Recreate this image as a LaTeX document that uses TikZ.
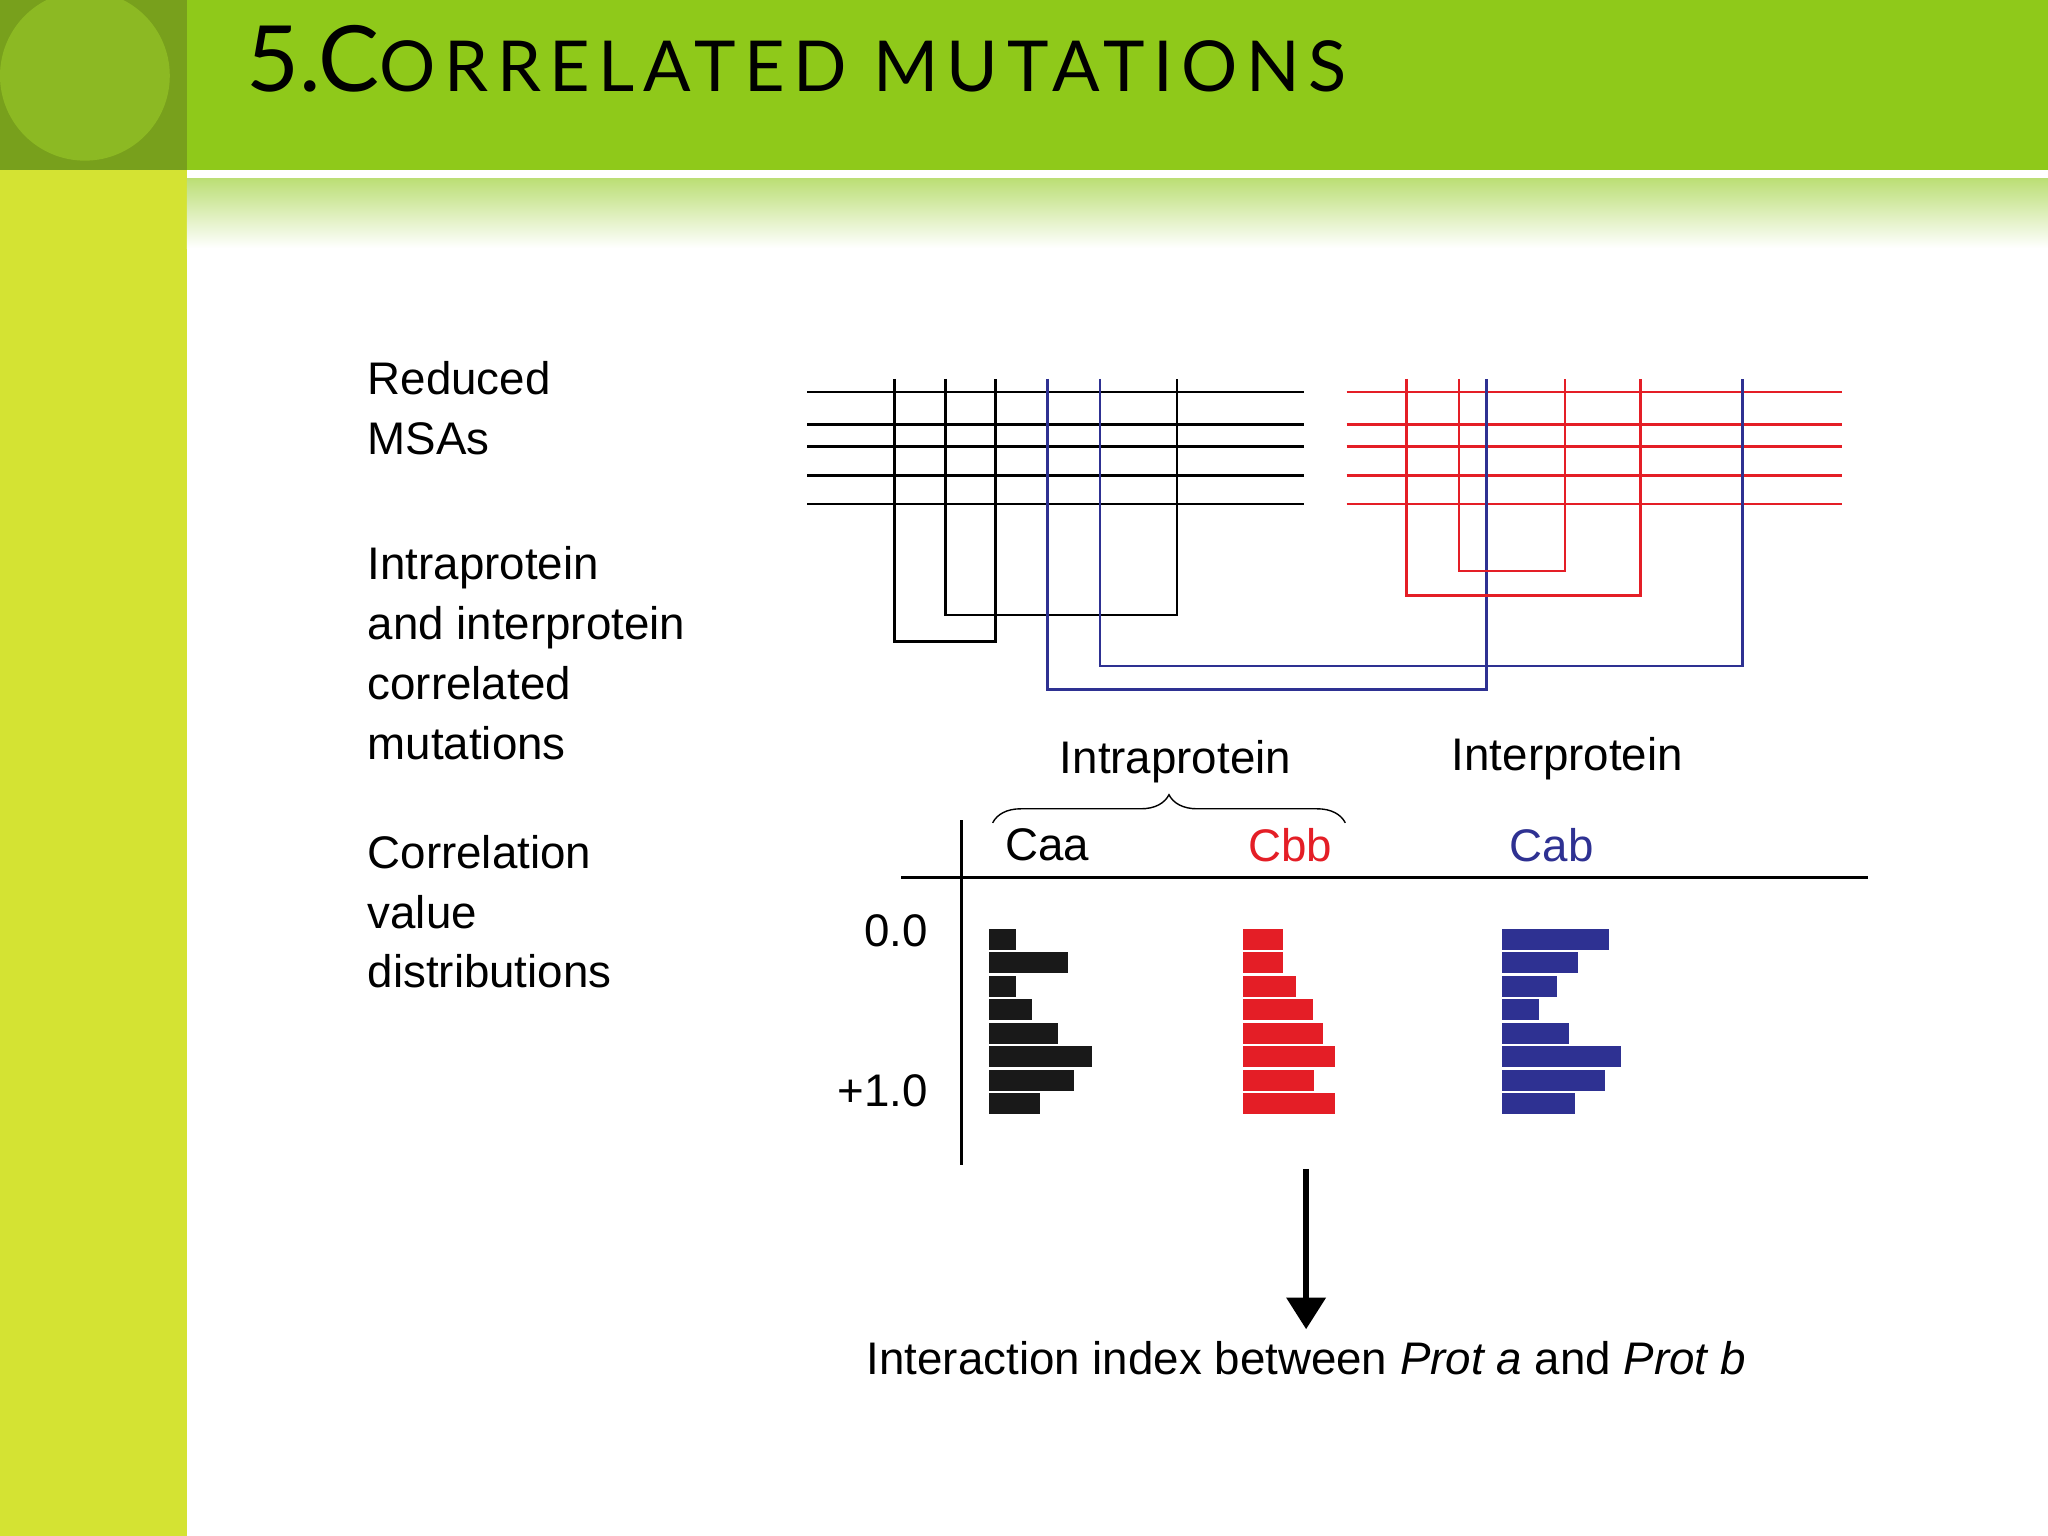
\documentclass[tikz,border=0pt]{standalone}
\usepackage{fontspec}
\setmainfont{Liberation Sans}
\newfontfamily\titlefont{Lato}
\usetikzlibrary{decorations.pathreplacing,arrows.meta}
\definecolor{topgreen}{RGB}{143,201,26}
\definecolor{cornergreen}{RGB}{120,160,28}
\definecolor{circgreen}{RGB}{140,185,35}
\definecolor{sidegreen}{RGB}{212,227,51}
\definecolor{rd}{RGB}{228,30,38}
\definecolor{bl}{RGB}{46,49,146}
\tikzset{lbl/.style={font=\fontsize{13}{17}\selectfont,align=left,anchor=north west,inner sep=0pt},
 bk/.style={line width=0.7pt,black},
 rl/.style={line width=0.7pt,rd},
 bll/.style={line width=0.7pt,bl}}
\begin{document}
\begin{tikzpicture}[x=0.013061cm,y=-0.013061cm]
\useasboundingbox (0,0) rectangle (1568,1176);
\fill[white] (0,0) rectangle (1568,1176);
\fill[topgreen] (0,0) rectangle (1568,130);
\fill[sidegreen] (0,130) rectangle (143,1176);
\fill[cornergreen] (0,0) rectangle (143,130);
\fill[circgreen] (65,58) circle (65);
\shade[top color=topgreen!60!white,bottom color=white] (143,137) rectangle (1568,190);
\node[anchor=base west,inner sep=0pt] (title) at (188,70) {\titlefont\fontsize{26}{30}\selectfont 5.C\fontsize{20}{24}\selectfont\addfontfeature{LetterSpace=12}ORRELATED MUTATIONS};
% left labels
\node[lbl] (l1) at (281,276) {Reduced\\MSAs};
\node[lbl] (l2) at (281,418) {Intraprotein\\and interprotein\\correlated\\mutations};
\node[lbl] (l3) at (281,639) {Correlation\\value\\distributions};
% MSA lines
\foreach \y in {300,325,342,364,386}{
 \draw[bk] (618,\y) -- (998,\y);
 \draw[rl] (1031,\y) -- (1410,\y);}
\draw[bk] (685,290) |- (762,491) -- (762,290);
\draw[bk] (724,290) |- (901,471) -- (901,290);
\draw[bll] (802,290) |- (1138,528) -- (1138,290);
\draw[bll] (842,290) |- (1334,510) -- (1334,290);
\draw[rl] (1077,290) |- (1256,456) -- (1256,290);
\draw[rl] (1117,290) |- (1198,437) -- (1198,290);
% headers
\node[font=\fontsize{13}{15}\selectfont] (intra) at (900,583) {Intraprotein};
\node[font=\fontsize{13}{15}\selectfont] (inter) at (1200,581) {Interprotein};
\coordinate (b1) at (760,630); \coordinate (b2) at (1030,630);
\draw[decorate,decoration={brace,amplitude=8pt}] (b1) -- (b2);
\node[font=\fontsize{13}{15}\selectfont] (caa) at (802,647) {Caa};
\node[font=\fontsize{13}{15}\selectfont,text=rd] (cbb) at (988,647) {Cbb};
\node[font=\fontsize{13}{15}\selectfont,text=bl] (cab) at (1188,647) {Cab};
\coordinate (ax1) at (736,628); \coordinate (ax2) at (736,892);
\coordinate (ah1) at (690,672); \coordinate (ah2) at (1430,672);
\draw[line width=0.8pt] (ax1) -- (ax2);
\draw[line width=0.8pt] (ah1) -- (ah2);
\node[anchor=east,font=\fontsize{13}{15}\selectfont] (z) at (720,713) {0.0};
\node[anchor=east,font=\fontsize{13}{15}\selectfont] (o) at (720,835) {+1.0};
% bars
\foreach \e [count=\i] in {778,818,778,790,810,836,822,796}
 \fill[black!90] (757,{711+(\i-1)*18}) rectangle (\e,{711+(\i-1)*18+16});
\foreach \e [count=\i] in {982,982,992,1005,1013,1022,1006,1022}
 \fill[rd] (952,{711+(\i-1)*18}) rectangle (\e,{711+(\i-1)*18+16});
\foreach \e [count=\i] in {1232,1208,1192,1178,1201,1241,1229,1206}
 \fill[bl] (1150,{711+(\i-1)*18}) rectangle (\e,{711+(\i-1)*18+16});
% arrow
\node[font=\fontsize{13}{15}\selectfont] (res) at (1000,1040) {Interaction index between \textit{Prot a} and \textit{Prot b}};
\coordinate (as) at (1000,895);
\draw[line width=1.5pt,-{Triangle[length=9pt,width=11pt]}] (as) -- (res.north);
\end{tikzpicture}
\end{document}
